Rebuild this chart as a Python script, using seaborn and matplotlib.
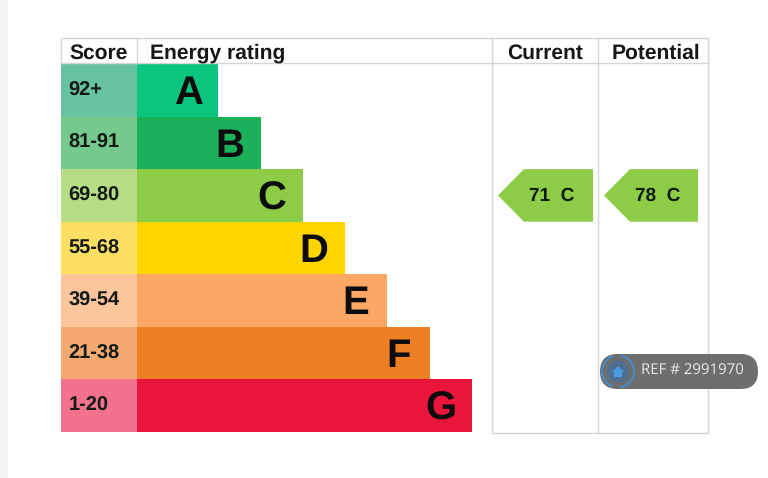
import matplotlib
matplotlib.use("Agg")
import matplotlib.pyplot as plt
from matplotlib.patches import FancyBboxPatch, Circle, Arc, Rectangle
import pandas as pd
import seaborn as sns

# ---- chart values
bands = ["A", "B", "C", "D", "E", "F", "G"]
scores = ["92+", "81-91", "69-80", "55-68", "39-54", "21-38", "1-20"]
band_lengths = [81, 124, 166, 208, 250, 293, 335]
score_column = [-76, -76, -76, -76, -76, -76, -76]
band_colors = ["#0ac57e", "#1bb05a", "#8ccc47", "#ffd500", "#fca763", "#ee7f23", "#e9153b"]
score_colors = ["#67c2a0", "#76c98c", "#b6dc85", "#ffdf63", "#fdc59b", "#f3a970", "#f2718c"]
headers = ["Score", "Energy rating", "Current", "Potential"]
current_label = "71  C"
potential_label = "78  C"
current_band = "C"
ref_text = "REF # 2991970"

# ---- layout (pixels of the 768x478 picture)
W, H = 768, 478
X0, ROW_TOP, ROW_H = 137, 64, 52.57
FONT = "Liberation Sans"
LINE = "#d6d6d6"

sns.set_theme(style="white")
plt.rcParams["font.family"] = [FONT, "DejaVu Sans"]
plt.rcParams["text.hinting"] = "no_hinting"
plt.rcParams["text.hinting_factor"] = 1

fig = plt.figure(figsize=(W / 100, H / 100), dpi=100, facecolor="white")
ax = fig.add_axes([0, 0, 1, 1])

df = pd.DataFrame({"band": bands, "length": band_lengths, "score": score_column})
sns.barplot(data=df, y="band", x="length", hue="band", palette=band_colors, width=1.0,
            dodge=False, legend=False, saturation=1, linewidth=0, ax=ax, zorder=2)
sns.barplot(data=df, y="band", x="score", hue="band", palette=score_colors, width=1.0,
            dodge=False, legend=False, saturation=1, linewidth=0, ax=ax, zorder=2)

ax.set_xlim(-X0, W - X0)
ax.set_ylim((H - ROW_TOP) / ROW_H - 0.5, -ROW_TOP / ROW_H - 0.5)
ax.axis("off")


def px(x):
    return x - X0


def py(y):
    return (y - ROW_TOP) / ROW_H - 0.5


# left page strip
ax.add_patch(Rectangle((px(0), py(0)), 7.5, py(H) - py(0), fc="#f5f5f7", ec="none", zorder=1))

# table lines
kw = dict(color=LINE, lw=1.0, zorder=3, solid_capstyle="butt")
ax.plot([px(61), px(708)], [py(38), py(38)], **kw)
ax.plot([px(61), px(708)], [py(63.5), py(63.5)], **kw)
ax.plot([px(492), px(708)], [py(433), py(433)], **kw)
ax.plot([px(61), px(61)], [py(38), py(64)], **kw)
ax.plot([px(137), px(137)], [py(38), py(64)], **kw)
for xv, top, bottom in [(492, 38, 433), (598, 38, 433), (708, 38, 433)]:
    ax.plot([px(xv), px(xv)], [py(top), py(bottom)], **kw)

# header text
hy = py(51)
for label, xv, ha in zip(headers, [69, 150, 545, 656], ["left", "left", "center", "center"]):
    ax.text(px(xv), hy, label, ha=ha, va="center_baseline", fontsize=15.2, fontweight="bold",
            color="#161616", zorder=5)

# rows
for i, (b, s, length) in enumerate(zip(bands, scores, band_lengths)):
    ax.text(px(68.5), i - 0.035, s, ha="left", va="center_baseline", fontsize=14.6,
            fontweight="bold", color="#141a14", zorder=5)
    shift = 29 if b == "A" else 31
    ax.text(length - shift, i - 0.015, b, ha="center", va="center_baseline", fontsize=29,
            fontweight="bold", color="#0c0c0c", zorder=5)

# current / potential arrows
row = bands.index(current_band)
half = 0.5
for left, right, label in [(498, 593, current_label), (604, 698, potential_label)]:
    shoulder = left + 26
    ax.fill([px(left), px(shoulder), px(right), px(right), px(shoulder)],
            [row, row - half, row - half, row + half, row + half],
            color=band_colors[row], lw=0, zorder=4)
    ax.text(px((left + right) / 2 + 6.5), row - 0.03, label, ha="center", va="center_baseline",
            fontsize=14, fontweight="bold", color="#0e1a0a", zorder=5)

# reference badge, in its own pixel-based overlay
ov = fig.add_axes([0, 0, 1, 1], facecolor="none")
ov.set_xlim(0, W)
ov.set_ylim(H, 0)
ov.axis("off")
ov.add_patch(FancyBboxPatch((600, 354), 158, 35, boxstyle="round,pad=0,rounding_size=17.5",
                            fc="#666666", ec="none", alpha=0.95, zorder=6))
ov.add_patch(Circle((618, 371.5), 11, fc="#4e6f92", ec="none", zorder=7))
ov.add_patch(Arc((618, 371.5), 32, 32, theta1=-80, theta2=80, ec="#3f8fd6", lw=1.3, zorder=7))
ov.add_patch(Arc((618, 371.5), 32, 32, theta1=110, theta2=250, ec="#3f8fd6", lw=1.3, zorder=7))
ov.fill([612, 618, 624], [372, 366, 372], color="#4a9ce0", lw=0, zorder=8)
ov.add_patch(Rectangle((614, 372), 8, 5, fc="#4a9ce0", ec="none", zorder=8))
ov.text(692.5, 371, ref_text, ha="center", va="center", fontsize=10.8, color="#e9e9e9",
        family="Open Sans", zorder=8)

fig.savefig("out.png", dpi=100, facecolor="white")
